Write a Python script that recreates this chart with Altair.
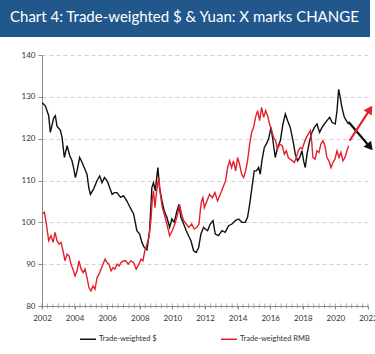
import altair as alt
import pandas as pd

TITLE = "Chart 4: Trade-weighted $ & Yuan: X marks CHANGE"
SERIES = ["Trade-weighted $", "Trade-weighted RMB"]
COLORS = ["#111111", "#e3202c"]
Y_TICKS = [80, 90, 100, 110, 120, 130, 140]
YEAR_LABELS = [2002, 2004, 2006, 2008, 2010, 2012, 2014, 2016, 2018, 2020, 2022]

usd_year = [2002.02, 2002.21, 2002.41, 2002.51, 2002.72, 2002.82, 2002.92, 2003.13, 2003.23, 2003.37,
            2003.54, 2003.70, 2003.84, 2003.94, 2004.05, 2004.15, 2004.31, 2004.46, 2004.60, 2004.76,
            2004.87, 2004.97, 2005.17, 2005.38, 2005.54, 2005.68, 2005.83, 2005.99, 2006.15, 2006.30,
            2006.44, 2006.60, 2006.81, 2007.01, 2007.21, 2007.41, 2007.62, 2007.82, 2007.99, 2008.13,
            2008.27, 2008.44, 2008.60, 2008.74, 2008.84, 2008.95, 2009.05, 2009.11, 2009.21, 2009.36,
            2009.50, 2009.66, 2009.83, 2009.97, 2010.11, 2010.28, 2010.40, 2010.52, 2010.69, 2010.85,
            2010.99, 2011.14, 2011.30, 2011.46, 2011.61, 2011.75, 2011.91, 2012.02, 2012.16, 2012.32,
            2012.49, 2012.63, 2012.83, 2013.04, 2013.24, 2013.45, 2013.65, 2013.86, 2014.06, 2014.27,
            2014.47, 2014.61, 2014.74, 2014.88, 2015.02, 2015.15, 2015.29, 2015.39, 2015.49, 2015.64,
            2015.76, 2015.90, 2016.05, 2016.17, 2016.31, 2016.45, 2016.62, 2016.78, 2016.93, 2017.07,
            2017.23, 2017.40, 2017.54, 2017.68, 2017.81, 2017.95, 2018.05, 2018.15, 2018.26, 2018.42,
            2018.56, 2018.71, 2018.87, 2019.03, 2019.18, 2019.32, 2019.48, 2019.65, 2019.79, 2019.99,
            2020.10, 2020.20, 2020.30, 2020.40, 2020.55, 2020.67, 2020.81]
usd_val = [128.6, 127.8, 125.5, 121.5, 125.0, 125.5, 123.0, 122.0, 120.3, 115.5,
           118.3, 116.0, 114.7, 113.0, 110.7, 112.3, 115.5, 114.3, 113.0, 111.5,
           108.3, 106.7, 108.0, 110.0, 111.1, 109.5, 110.7, 110.0, 108.3, 106.7,
           107.1, 107.1, 106.0, 106.3, 105.1, 103.5, 102.0, 98.0, 97.2, 95.2,
           94.0, 93.4, 98.0, 108.3, 109.5, 107.5, 111.1, 113.1, 108.3, 105.1,
           102.7, 101.2, 98.8, 100.8, 100.0, 102.7, 104.3, 101.2, 99.6, 98.0,
           96.8, 95.6, 93.2, 92.8, 94.0, 97.2, 98.8, 98.4, 98.0, 99.6,
           100.4, 97.2, 96.8, 98.0, 97.6, 99.2, 99.6, 100.4, 100.8, 100.0,
           100.0, 101.2, 104.3, 108.3, 112.3, 112.3, 113.1, 111.5, 114.7, 117.9,
           118.7, 119.9, 122.7, 119.5, 115.5, 117.9, 119.5, 123.5, 125.9, 124.3,
           122.7, 119.5, 116.3, 114.7, 115.5, 117.1, 114.7, 113.1, 116.3, 119.5,
           121.5, 122.7, 123.5, 121.5, 122.7, 123.5, 124.3, 125.1, 123.9, 123.5,
           126.7, 131.8, 129.8, 127.5, 125.1, 124.3, 123.5]

rmb_year = [2002.02, 2002.15, 2002.27, 2002.41, 2002.55, 2002.68, 2002.80, 2002.92, 2003.05, 2003.17,
            2003.29, 2003.41, 2003.54, 2003.66, 2003.78, 2003.90, 2004.03, 2004.15, 2004.27, 2004.40,
            2004.52, 2004.64, 2004.76, 2004.88, 2005.00, 2005.13, 2005.25, 2005.38, 2005.50, 2005.62,
            2005.74, 2005.87, 2005.99, 2006.11, 2006.24, 2006.36, 2006.48, 2006.60, 2006.73, 2006.85,
            2007.01, 2007.13, 2007.29, 2007.45, 2007.62, 2007.78, 2007.95, 2008.07, 2008.19, 2008.31,
            2008.44, 2008.56, 2008.68, 2008.76, 2008.84, 2008.93, 2009.01, 2009.09, 2009.17, 2009.25,
            2009.38, 2009.50, 2009.66, 2009.83, 2009.99, 2010.15, 2010.32, 2010.44, 2010.56, 2010.69,
            2010.85, 2011.01, 2011.18, 2011.34, 2011.50, 2011.63, 2011.71, 2011.79, 2011.87, 2011.96,
            2012.12, 2012.28, 2012.45, 2012.61, 2012.77, 2012.94, 2013.10, 2013.26, 2013.39, 2013.51,
            2013.63, 2013.75, 2013.88, 2014.00, 2014.12, 2014.25, 2014.37, 2014.49, 2014.61, 2014.74,
            2014.86, 2014.98, 2015.10, 2015.23, 2015.35, 2015.47, 2015.60, 2015.72, 2015.84, 2015.96,
            2016.09, 2016.21, 2016.33, 2016.45, 2016.58, 2016.74, 2016.87, 2016.99, 2017.11, 2017.23,
            2017.36, 2017.48, 2017.60, 2017.72, 2017.85, 2017.97, 2018.09, 2018.22, 2018.34, 2018.46,
            2018.54, 2018.62, 2018.75, 2018.87, 2018.99, 2019.11, 2019.24, 2019.36, 2019.48, 2019.60,
            2019.73, 2019.85, 2019.97, 2020.10, 2020.22, 2020.34, 2020.46, 2020.59, 2020.71, 2020.81]
rmb_val = [102.0, 102.4, 99.6, 95.6, 96.8, 95.2, 97.6, 95.6, 94.8, 95.2,
           93.2, 90.8, 92.4, 92.0, 90.0, 88.8, 87.2, 88.4, 90.8, 88.8,
           88.0, 88.8, 86.8, 84.4, 83.6, 84.8, 84.0, 86.8, 87.6, 88.8,
           90.0, 91.2, 90.4, 90.0, 88.4, 89.2, 88.8, 90.0, 89.6, 90.4,
           90.8, 90.8, 90.0, 90.8, 90.4, 88.8, 90.0, 91.2, 90.8, 93.2,
           94.8, 96.4, 100.4, 105.1, 107.5, 103.5, 106.7, 109.1, 110.7, 107.1,
           103.5, 102.0, 99.6, 96.8, 98.0, 99.6, 102.0, 104.3, 102.0, 100.4,
           99.6, 98.8, 99.6, 98.4, 98.8, 99.6, 102.7, 105.1, 105.9, 103.5,
           105.1, 106.7, 105.9, 107.1, 105.1, 106.7, 108.3, 109.9, 113.1, 114.7,
           113.1, 114.7, 112.3, 115.5, 113.9, 111.5, 110.7, 112.3, 114.7, 118.7,
           121.5, 122.7, 125.1, 126.7, 124.3, 127.5, 125.1, 126.7, 125.5, 123.5,
           121.9, 120.3, 119.5, 117.5, 118.7, 118.3, 116.3, 117.1, 115.5, 115.1,
           114.7, 114.3, 115.5, 117.1, 117.9, 117.5, 119.1, 120.3, 121.1, 121.9,
           119.5, 115.5, 115.1, 117.1, 116.7, 118.7, 119.5, 118.3, 115.5, 114.7,
           113.1, 114.3, 115.1, 117.1, 115.5, 116.7, 114.7, 115.5, 117.1, 118.3]

# arrows (start, end) in data units
arrow_usd_year = [2020.81, 2022.12]
arrow_usd_val = [124.0, 118.0]
arrow_rmb_year = [2020.87, 2022.12]
arrow_rmb_val = [119.5, 127.0]
ARROW_USD_ANGLE = 140.6
ARROW_RMB_ANGLE = 32.6

df = pd.concat([
    pd.DataFrame({"year": usd_year, "value": usd_val, "series": SERIES[0]}),
    pd.DataFrame({"year": rmb_year, "value": rmb_val, "series": SERIES[1]}),
], ignore_index=True)

# minor tick positions (every 4 months)
minor_ticks = pd.DataFrame({"year": [2002 + i / 3 for i in range(61)]})

FONT = "Lato"
x_scale = alt.Scale(domain=[2002, 2022], nice=False, zero=False)
y_scale = alt.Scale(domain=[80, 140], nice=False, zero=False)

X_AXIS = alt.Axis(values=YEAR_LABELS, format="d", grid=False, tickSize=3,
                  labelFontSize=8, labelFont=FONT, labelColor="#333", labelPadding=5,
                  domainColor="#8a8a8a", tickColor="#8a8a8a", labelOverlap=False,
                  labelFlush=False, labelBound=False, title=None)
Y_AXIS = alt.Axis(values=Y_TICKS, grid=True, gridDash=[4, 3], gridColor="#d2d2d2",
                  tickSize=4, labelFontSize=8, labelFont=FONT, labelColor="#333",
                  labelPadding=3, domainColor="#8a8a8a", tickColor="#8a8a8a", title=None)


def xe():
    return alt.X("year:Q", scale=x_scale, axis=X_AXIS)


def ye():
    return alt.Y("value:Q", scale=y_scale, axis=Y_AXIS)


ticks = alt.Chart(minor_ticks).mark_tick(orient="vertical", color="#8a8a8a", size=5,
                                         thickness=1, clip=False).encode(
    x=xe(), y=alt.value(251))

lines = alt.Chart(df).mark_line(strokeWidth=1.4, clip=False).encode(
    x=xe(), y=ye(),
    color=alt.Color("series:N", scale=alt.Scale(domain=SERIES, range=COLORS),
                    legend=alt.Legend(title=None, orient="none", legendX=37, legendY=275,
                                      direction="horizontal", symbolType="stroke",
                                      symbolSize=256, symbolStrokeWidth=1.5,
                                      labelFontSize=7.5, labelFont=FONT, labelColor="#333",
                                      labelOffset=2, columnPadding=61)),
)


def arrow_layers(xs, ys, color, angle):
    d = pd.DataFrame({"year": xs, "value": ys})
    ln = alt.Chart(d).mark_line(color=color, strokeWidth=2.2, clip=False).encode(x=xe(), y=ye())
    hd = alt.Chart(d.iloc[[1]]).mark_point(shape="triangle-up", filled=True, size=95,
                                          color=color, opacity=1, angle=angle,
                                          clip=False).encode(x=xe(), y=ye())
    return [ln, hd]


one = pd.DataFrame({"k": [0]})
banner = alt.Chart(one).mark_rect(color="#22578c").encode(
    x=alt.value(-42), x2=alt.value(328), y=alt.value(-55), y2=alt.value(-18))
title = alt.Chart(one).mark_text(text=TITLE, align="left", baseline="middle", color="white",
                                 font=FONT, fontSize=15).encode(
    x=alt.value(-32), y=alt.value(-38))

chart = alt.layer(
    banner, title, lines, ticks,
    *arrow_layers(arrow_usd_year, arrow_usd_val, COLORS[0], ARROW_USD_ANGLE),
    *arrow_layers(arrow_rmb_year, arrow_rmb_val, COLORS[1], ARROW_RMB_ANGLE),
).properties(
    width=326, height=251,
    autosize=alt.AutoSizeParams(type="none"),
    padding={"left": 42, "top": 55, "right": 7, "bottom": 48},
).configure_view(stroke=None).configure_axis(labelOverlap=False)

chart.save("out.html", embed_options={"renderer": "svg", "actions": False})
